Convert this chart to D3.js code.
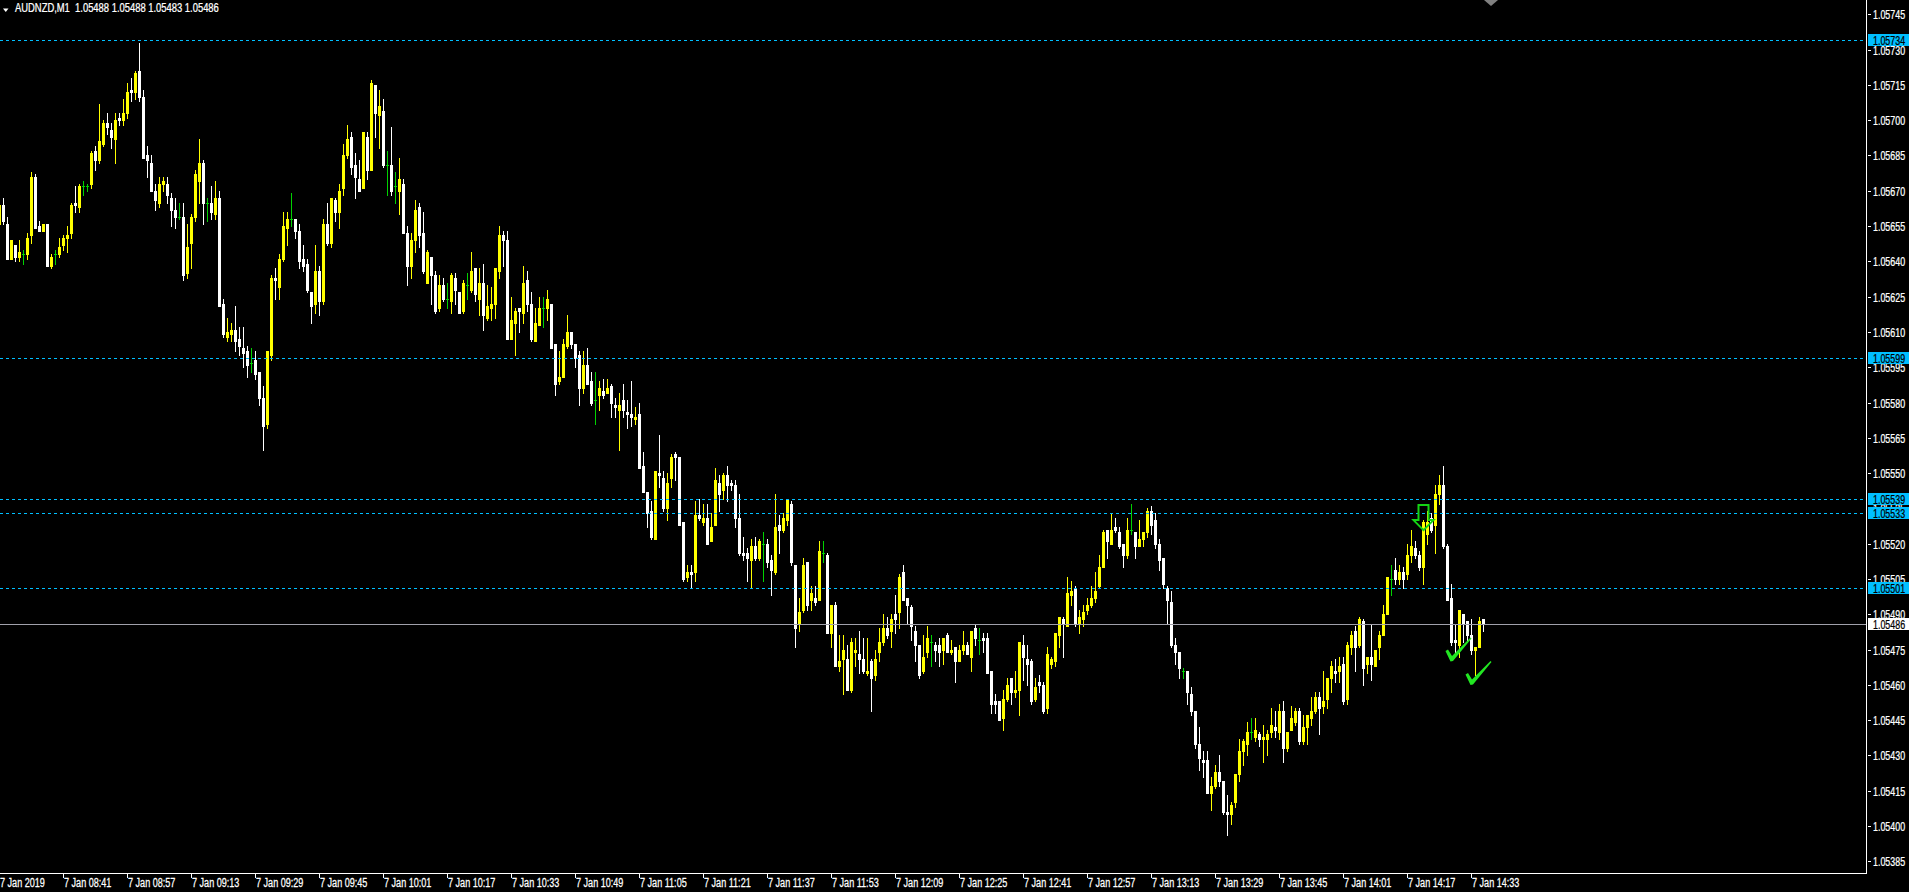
<!DOCTYPE html>
<html><head><meta charset="utf-8">
<script src="https://cdn.jsdelivr.net/npm/d3@7"></script>
<style>
html,body{margin:0;padding:0;background:#000;overflow:hidden}
svg{display:block}
text{font-family:"Liberation Sans",Arial,sans-serif;font-size:12px}
</style></head><body><svg id="c" width="1909" height="892"></svg>
<script>
// ---------- DATA ----------
const symbolTitle = "AUDNZD,M1";
const headerValues = ["1.05488","1.05488","1.05483","1.05486"];
const firstBarTime = "08:25";
const opens = [
1.05656,1.05664,1.05656,1.05641,1.05647,1.05642,1.05643,1.05643,1.05651,1.05676,
1.05655,1.05653,1.05656,1.05638,1.05643,1.05643,1.05647,1.05650,1.05652,1.05665,
1.05663,1.05672,1.05672,1.05673,1.05687,1.05683,1.05690,1.05699,1.05696,1.05692,
1.05701,1.05700,1.05703,1.05713,1.05712,1.05721,1.05710,1.05685,1.05682,1.05670,
1.05665,1.05673,1.05673,1.05667,1.05662,1.05659,1.05659,1.05635,1.05648,1.05659,
1.05674,1.05682,1.05665,1.05665,1.05660,1.05667,1.05622,1.05608,1.05609,1.05611,
1.05607,1.05603,1.05602,1.05597,1.05598,1.05593,1.05582,1.05571,1.05600,1.05633,
1.05629,1.05641,1.05654,1.05658,1.05658,1.05653,1.05641,1.05639,1.05627,1.05622,
1.05636,1.05623,1.05656,1.05648,1.05666,1.05661,1.05671,1.05685,1.05693,1.05681,
1.05675,1.05671,1.05693,1.05679,1.05715,1.05702,1.05704,1.05681,1.05681,1.05672,
1.05670,1.05673,1.05652,1.05638,1.05649,1.05663,1.05652,1.05631,1.05642,1.05634,
1.05620,1.05630,1.05624,1.05623,1.05633,1.05627,1.05619,1.05630,1.05628,1.05637,
1.05624,1.05631,1.05616,1.05620,1.05622,1.05636,1.05651,1.05649,1.05607,1.05614,
1.05620,1.05618,1.05632,1.05622,1.05606,1.05613,1.05620,1.05620,1.05622,1.05605,
1.05589,1.05591,1.05604,1.05610,1.05605,1.05600,1.05586,1.05596,1.05589,1.05581,
1.05583,1.05585,1.05584,1.05587,1.05579,1.05577,1.05581,1.05576,1.05575,1.05573,
1.05575,1.05553,1.05542,1.05534,1.05522,1.05550,1.05548,1.05535,1.05548,1.05558,
1.05557,1.05529,1.05506,1.05508,1.05508,1.05532,1.05529,1.05531,1.05521,1.05528,
1.05546,1.05543,1.05549,1.05546,1.05545,1.05531,1.05516,1.05516,1.05513,1.05519,
1.05514,1.05520,1.05520,1.05513,1.05508,1.05528,1.05526,1.05530,1.05537,1.05511,
1.05486,1.05492,1.05512,1.05496,1.05497,1.05496,1.05516,1.05515,1.05482,1.05494,
1.05468,1.05471,1.05471,1.05458,1.05474,1.05473,1.05471,1.05465,1.05470,1.05464,
1.05474,1.05478,1.05484,1.05483,1.05490,1.05491,1.05508,1.05497,1.05493,1.05483,
1.05477,1.05466,1.05474,1.05478,1.05477,1.05477,1.05475,1.05481,1.05474,1.05476,
1.05470,1.05475,1.05477,1.05472,1.05484,1.05479,1.05480,1.05480,1.05466,1.05453,
1.05453,1.05446,1.05454,1.05463,1.05457,1.05458,1.05477,1.05471,1.05470,1.05454,
1.05461,1.05460,1.05450,1.05469,1.05470,1.05481,1.05488,1.05485,1.05498,1.05501,
1.05486,1.05488,1.05492,1.05494,1.05497,1.05502,1.05510,1.05526,1.05520,1.05527,
1.05525,1.05520,1.05515,1.05526,1.05525,1.05519,1.05522,1.05525,1.05534,1.05530,
1.05520,1.05514,1.05501,1.05495,1.05477,1.05474,1.05466,1.05466,1.05456,1.05449,
1.05435,1.05428,1.05428,1.05414,1.05417,1.05423,1.05419,1.05406,1.05405,1.05410,
1.05422,1.05432,1.05435,1.05440,1.05438,1.05439,1.05437,1.05437,1.05440,1.05442,
1.05440,1.05449,1.05433,1.05441,1.05444,1.05449,1.05436,1.05442,1.05446,1.05449,
1.05455,1.05451,1.05454,1.05463,1.05466,1.05466,1.05469,1.05454,1.05476,1.05483,
1.05477,1.05487,1.05469,1.05472,1.05468,1.05476,1.05481,1.05490,1.05505,1.05509,
1.05505,1.05508,1.05507,1.05515,1.05518,1.05515,1.05510,1.05524,1.05531,1.05528,
1.05541,1.05545,1.05519,1.05497,1.05479,1.05477,1.05490,1.05487,1.05481,1.05475,
1.05476,1.05488];
const highs = [
1.05665,1.05667,1.05659,1.05649,1.05647,1.05649,1.05645,1.05652,1.05678,1.05677,
1.05657,1.05656,1.05656,1.05643,1.05645,1.05650,1.05651,1.05655,1.05665,1.05672,
1.05673,1.05674,1.05673,1.05687,1.05689,1.05707,1.05700,1.05703,1.05699,1.05703,
1.05703,1.05709,1.05716,1.05718,1.05721,1.05733,1.05713,1.05689,1.05685,1.05673,
1.05676,1.05676,1.05676,1.05669,1.05667,1.05665,1.05665,1.05656,1.05660,1.05679,
1.05692,1.05683,1.05667,1.05672,1.05674,1.05670,1.05624,1.05616,1.05614,1.05621,
1.05612,1.05612,1.05604,1.05603,1.05602,1.05593,1.05587,1.05602,1.05634,1.05637,
1.05643,1.05661,1.05661,1.05669,1.05658,1.05656,1.05647,1.05641,1.05627,1.05647,
1.05638,1.05658,1.05665,1.05667,1.05667,1.05673,1.05690,1.05698,1.05695,1.05686,
1.05683,1.05695,1.05695,1.05717,1.05715,1.05713,1.05709,1.05687,1.05697,1.05678,
1.05684,1.05675,1.05655,1.05652,1.05666,1.05665,1.05661,1.05645,1.05642,1.05636,
1.05634,1.05633,1.05631,1.05635,1.05635,1.05627,1.05632,1.05635,1.05644,1.05637,
1.05637,1.05639,1.05630,1.05629,1.05637,1.05655,1.05653,1.05653,1.05625,1.05620,
1.05620,1.05638,1.05636,1.05627,1.05620,1.05625,1.05625,1.05628,1.05622,1.05605,
1.05602,1.05607,1.05617,1.05610,1.05605,1.05602,1.05602,1.05603,1.05593,1.05593,
1.05589,1.05590,1.05590,1.05588,1.05582,1.05584,1.05588,1.05581,1.05589,1.05578,
1.05580,1.05559,1.05542,1.05538,1.05551,1.05566,1.05551,1.05550,1.05558,1.05559,
1.05557,1.05529,1.05511,1.05511,1.05538,1.05539,1.05537,1.05537,1.05533,1.05552,
1.05549,1.05550,1.05553,1.05547,1.05547,1.05541,1.05523,1.05518,1.05522,1.05523,
1.05522,1.05525,1.05522,1.05515,1.05541,1.05532,1.05533,1.05539,1.05538,1.05511,
1.05497,1.05514,1.05512,1.05502,1.05502,1.05521,1.05521,1.05516,1.05494,1.05495,
1.05481,1.05481,1.05477,1.05480,1.05480,1.05483,1.05480,1.05480,1.05471,1.05475,
1.05484,1.05490,1.05489,1.05490,1.05498,1.05507,1.05511,1.05497,1.05494,1.05485,
1.05477,1.05481,1.05485,1.05481,1.05478,1.05480,1.05480,1.05482,1.05479,1.05476,
1.05477,1.05483,1.05478,1.05483,1.05486,1.05484,1.05482,1.05482,1.05466,1.05456,
1.05453,1.05458,1.05463,1.05463,1.05466,1.05478,1.05481,1.05477,1.05471,1.05463,
1.05464,1.05461,1.05476,1.05472,1.05482,1.05489,1.05489,1.05506,1.05504,1.05502,
1.05492,1.05494,1.05497,1.05502,1.05508,1.05515,1.05526,1.05526,1.05533,1.05531,
1.05527,1.05520,1.05531,1.05537,1.05525,1.05530,1.05525,1.05535,1.05536,1.05533,
1.05522,1.05514,1.05502,1.05500,1.05480,1.05474,1.05467,1.05466,1.05459,1.05449,
1.05442,1.05432,1.05432,1.05421,1.05426,1.05430,1.05419,1.05413,1.05410,1.05422,
1.05437,1.05437,1.05444,1.05446,1.05446,1.05440,1.05443,1.05441,1.05450,1.05449,
1.05452,1.05453,1.05440,1.05451,1.05450,1.05450,1.05447,1.05447,1.05455,1.05457,
1.05457,1.05466,1.05463,1.05470,1.05471,1.05472,1.05472,1.05478,1.05483,1.05485,
1.05489,1.05488,1.05472,1.05486,1.05475,1.05483,1.05494,1.05506,1.05511,1.05514,
1.05511,1.05510,1.05520,1.05526,1.05521,1.05517,1.05530,1.05534,1.05533,1.05545,
1.05549,1.05553,1.05520,1.05503,1.05486,1.05492,1.05490,1.05487,1.05488,1.05476,
1.05489,1.05488];
const lows = [
1.05655,1.05656,1.05641,1.05641,1.05640,1.05640,1.05639,1.05641,1.05648,1.05654,
1.05653,1.05653,1.05638,1.05637,1.05639,1.05642,1.05645,1.05644,1.05650,1.05661,
1.05661,1.05668,1.05670,1.05671,1.05679,1.05682,1.05689,1.05694,1.05688,1.05682,
1.05698,1.05698,1.05701,1.05708,1.05709,1.05708,1.05684,1.05676,1.05670,1.05662,
1.05663,1.05670,1.05665,1.05655,1.05654,1.05658,1.05632,1.05633,1.05637,1.05657,
1.05665,1.05656,1.05657,1.05658,1.05658,1.05621,1.05608,1.05606,1.05606,1.05602,
1.05600,1.05595,1.05591,1.05593,1.05590,1.05579,1.05560,1.05569,1.05598,1.05624,
1.05624,1.05640,1.05647,1.05655,1.05650,1.05637,1.05636,1.05627,1.05614,1.05618,
1.05617,1.05622,1.05647,1.05646,1.05657,1.05654,1.05668,1.05684,1.05677,1.05667,
1.05670,1.05671,1.05675,1.05679,1.05693,1.05688,1.05680,1.05668,1.05668,1.05665,
1.05660,1.05652,1.05630,1.05633,1.05644,1.05646,1.05635,1.05631,1.05622,1.05618,
1.05619,1.05623,1.05620,1.05618,1.05622,1.05618,1.05618,1.05624,1.05627,1.05623,
1.05617,1.05611,1.05615,1.05615,1.05616,1.05633,1.05638,1.05607,1.05607,1.05600,
1.05610,1.05614,1.05619,1.05606,1.05606,1.05613,1.05612,1.05615,1.05603,1.05583,
1.05588,1.05591,1.05603,1.05603,1.05595,1.05579,1.05584,1.05588,1.05579,1.05571,
1.05577,1.05582,1.05584,1.05574,1.05574,1.05560,1.05574,1.05569,1.05570,1.05571,
1.05552,1.05542,1.05527,1.05522,1.05522,1.05544,1.05534,1.05530,1.05544,1.05547,
1.05528,1.05504,1.05504,1.05501,1.05504,1.05530,1.05528,1.05520,1.05521,1.05528,
1.05534,1.05539,1.05538,1.05543,1.05527,1.05515,1.05513,1.05504,1.05501,1.05513,
1.05513,1.05504,1.05510,1.05498,1.05507,1.05516,1.05525,1.05528,1.05511,1.05476,
1.05483,1.05491,1.05492,1.05492,1.05494,1.05496,1.05512,1.05482,1.05476,1.05468,
1.05466,1.05456,1.05458,1.05457,1.05468,1.05465,1.05465,1.05464,1.05449,1.05462,
1.05470,1.05477,1.05480,1.05476,1.05482,1.05484,1.05496,1.05486,1.05479,1.05470,
1.05463,1.05465,1.05472,1.05468,1.05470,1.05468,1.05469,1.05474,1.05473,1.05461,
1.05470,1.05473,1.05473,1.05466,1.05477,1.05473,1.05474,1.05465,1.05448,1.05448,
1.05445,1.05441,1.05453,1.05452,1.05455,1.05447,1.05462,1.05460,1.05452,1.05453,
1.05457,1.05448,1.05448,1.05467,1.05468,1.05476,1.05472,1.05485,1.05494,1.05485,
1.05482,1.05485,1.05490,1.05493,1.05495,1.05501,1.05510,1.05514,1.05520,1.05525,
1.05518,1.05510,1.05514,1.05524,1.05514,1.05519,1.05519,1.05523,1.05524,1.05518,
1.05509,1.05501,1.05486,1.05476,1.05469,1.05463,1.05463,1.05452,1.05447,1.05433,
1.05424,1.05421,1.05414,1.05407,1.05416,1.05417,1.05405,1.05396,1.05401,1.05408,
1.05419,1.05426,1.05430,1.05437,1.05436,1.05434,1.05427,1.05430,1.05438,1.05438,
1.05437,1.05427,1.05432,1.05441,1.05443,1.05435,1.05435,1.05435,1.05443,1.05448,
1.05439,1.05448,1.05450,1.05457,1.05461,1.05461,1.05452,1.05452,1.05473,1.05466,
1.05476,1.05460,1.05465,1.05462,1.05468,1.05471,1.05481,1.05490,1.05498,1.05503,
1.05503,1.05501,1.05505,1.05512,1.05514,1.05509,1.05503,1.05520,1.05525,1.05516,
1.05537,1.05518,1.05496,1.05477,1.05473,1.05472,1.05478,1.05478,1.05473,1.05464,
1.05476,1.05483];
const closes = [
1.05664,1.05657,1.05641,1.05649,1.05642,1.05644,1.05643,1.05650,1.05676,1.05654,
1.05653,1.05656,1.05638,1.05642,1.05643,1.05646,1.05650,1.05651,1.05664,1.05664,
1.05672,1.05672,1.05672,1.05686,1.05683,1.05691,1.05699,1.05697,1.05693,1.05700,
1.05700,1.05703,1.05712,1.05712,1.05720,1.05710,1.05684,1.05683,1.05670,1.05666,
1.05673,1.05674,1.05668,1.05662,1.05659,1.05659,1.05634,1.05646,1.05659,1.05677,
1.05682,1.05665,1.05665,1.05661,1.05667,1.05621,1.05609,1.05610,1.05611,1.05606,
1.05604,1.05601,1.05596,1.05597,1.05592,1.05582,1.05570,1.05602,1.05633,1.05632,
1.05641,1.05655,1.05658,1.05658,1.05653,1.05640,1.05638,1.05628,1.05621,1.05636,
1.05623,1.05656,1.05648,1.05667,1.05661,1.05670,1.05685,1.05692,1.05680,1.05676,
1.05670,1.05695,1.05679,1.05716,1.05703,1.05706,1.05681,1.05681,1.05670,1.05672,
1.05675,1.05652,1.05638,1.05649,1.05662,1.05651,1.05636,1.05644,1.05634,1.05619,
1.05630,1.05624,1.05624,1.05634,1.05628,1.05618,1.05631,1.05630,1.05636,1.05626,
1.05631,1.05617,1.05621,1.05622,1.05637,1.05651,1.05649,1.05607,1.05615,1.05619,
1.05619,1.05631,1.05622,1.05607,1.05614,1.05620,1.05620,1.05624,1.05603,1.05588,
1.05591,1.05605,1.05610,1.05605,1.05599,1.05586,1.05596,1.05588,1.05580,1.05581,
1.05586,1.05583,1.05586,1.05580,1.05578,1.05579,1.05577,1.05575,1.05574,1.05574,
1.05552,1.05542,1.05533,1.05523,1.05551,1.05549,1.05535,1.05546,1.05557,1.05557,
1.05528,1.05505,1.05508,1.05507,1.05532,1.05531,1.05531,1.05520,1.05527,1.05547,
1.05541,1.05549,1.05545,1.05545,1.05531,1.05516,1.05515,1.05514,1.05519,1.05514,
1.05521,1.05520,1.05512,1.05509,1.05527,1.05526,1.05531,1.05539,1.05512,1.05484,
1.05491,1.05511,1.05494,1.05499,1.05495,1.05517,1.05516,1.05482,1.05494,1.05468,
1.05470,1.05475,1.05458,1.05478,1.05475,1.05471,1.05466,1.05466,1.05463,1.05471,
1.05478,1.05484,1.05481,1.05488,1.05488,1.05506,1.05496,1.05494,1.05485,1.05477,
1.05464,1.05472,1.05480,1.05478,1.05475,1.05474,1.05480,1.05474,1.05475,1.05470,
1.05475,1.05477,1.05473,1.05483,1.05480,1.05479,1.05479,1.05465,1.05452,1.05452,
1.05445,1.05454,1.05460,1.05457,1.05458,1.05478,1.05472,1.05469,1.05453,1.05459,
1.05460,1.05449,1.05473,1.05471,1.05482,1.05489,1.05486,1.05499,1.05500,1.05486,
1.05489,1.05491,1.05494,1.05497,1.05500,1.05510,1.05525,1.05521,1.05526,1.05526,
1.05519,1.05515,1.05526,1.05526,1.05519,1.05522,1.05525,1.05534,1.05528,1.05520,
1.05513,1.05503,1.05496,1.05477,1.05474,1.05467,1.05466,1.05457,1.05449,1.05435,
1.05429,1.05427,1.05414,1.05417,1.05423,1.05419,1.05406,1.05405,1.05409,1.05422,
1.05432,1.05436,1.05440,1.05440,1.05441,1.05437,1.05438,1.05439,1.05443,1.05441,
1.05449,1.05433,1.05440,1.05446,1.05449,1.05436,1.05442,1.05447,1.05449,1.05455,
1.05450,1.05453,1.05463,1.05468,1.05465,1.05468,1.05453,1.05477,1.05481,1.05476,
1.05488,1.05467,1.05472,1.05469,1.05475,1.05481,1.05490,1.05506,1.05505,1.05505,
1.05508,1.05505,1.05515,1.05519,1.05515,1.05510,1.05529,1.05529,1.05526,1.05541,
1.05545,1.05519,1.05496,1.05478,1.05478,1.05492,1.05486,1.05481,1.05475,1.05476,
1.05487,1.05486];
const priceTicks = [1.05745,1.05730,1.05715,1.05700,1.05685,1.05670,1.05655,1.05640,1.05625,1.05610,
  1.05595,1.05580,1.05565,1.05550,1.05535,1.05520,1.05505,1.05490,1.05475,1.05460,1.05445,1.05430,1.05415,1.05400,1.05385];
const levelLines = [1.05734,1.05599,1.05539,1.05533,1.05501];
const bidPrice = 1.05486;
const timeTickLabels = ["7 Jan 2019","7 Jan 08:41","7 Jan 08:57","7 Jan 09:13","7 Jan 09:29","7 Jan 09:45",
  "7 Jan 10:01","7 Jan 10:17","7 Jan 10:33","7 Jan 10:49","7 Jan 11:05","7 Jan 11:21","7 Jan 11:37",
  "7 Jan 11:53","7 Jan 12:09","7 Jan 12:25","7 Jan 12:41","7 Jan 12:57","7 Jan 13:13","7 Jan 13:29",
  "7 Jan 13:45","7 Jan 14:01","7 Jan 14:17","7 Jan 14:33"];
const timeTickBars = ["08:25","08:41","08:57","09:13","09:29","09:45","10:01","10:17","10:33","10:49","11:05",
  "11:21","11:37","11:53","12:09","12:25","12:41","12:57","13:13","13:29","13:45","14:01","14:17","14:33"];
// annotation anchors (bar time, price)
const arrowMark = {time:"14:21", price:1.05533};
const checkMarks = [{time:"14:29", price:1.05471},{time:"14:34", price:1.05461}];

// ---------- BUILD ----------
function fmtTime(m){const h=Math.floor(m/60),mm=m%60;return String(h).padStart(2,"0")+":"+String(mm).padStart(2,"0");}
const [h0,m0] = firstBarTime.split(":").map(Number);
const times = opens.map((_,i)=>fmtTime(h0*60+m0+i));
const bars = times.map((t,i)=>({t,o:opens[i],h:highs[i],l:lows[i],c:closes[i]}));

const W=1909,H=892, axisX=1866, axisY=873;
const svg = d3.select("#c");
svg.append("rect").attr("width",W).attr("height",H).attr("fill","#000");

// condensed terminal-style text (horizontal scale)
function label(g, tx, ty, str, fill, f){
  return g.append("text").attr("x",0).attr("y",0)
    .attr("transform",`translate(${tx},${ty}) scale(${f},1)`)
    .attr("fill",fill).attr("stroke",fill).attr("stroke-width",0.25)
    .attr("xml:space","preserve").style("white-space","pre").text(str);
}

const x = d3.scalePoint().domain(times).range([-0.5, -0.5 + 4*(times.length-1)]);
const y = d3.scaleLinear().domain([1.05745,1.05385]).range([14.3,861.3]);
const ry = v => Math.round(y(v));

const BULL="#ffff00", BEAR="#ffffff", DOJI="#00d200";
const plot = svg.append("g");
bars.forEach(b=>{
  const cx = x(b.t);
  const col = b.c>b.o?BULL:(b.c<b.o?BEAR:DOJI);
  const yh=ry(b.h), yl=ry(b.l);
  plot.append("rect").attr("x",cx-0.5).attr("y",yh).attr("width",1).attr("height",yl-yh+1).attr("fill",col);
  const yt=ry(Math.max(b.o,b.c)), yb=ry(Math.min(b.o,b.c));
  plot.append("rect").attr("x",cx-1.5).attr("y",yt).attr("width",3).attr("height",Math.max(1,yb-yt+1)).attr("fill",col);
});

// level lines
const lv = svg.append("g");
levelLines.forEach(p=>{
  lv.append("line").attr("x1",0).attr("x2",axisX).attr("y1",ry(p)+0.5).attr("y2",ry(p)+0.5)
    .attr("stroke","#00bfff").attr("stroke-width",1).attr("stroke-dasharray","3,3");
});
lv.append("line").attr("x1",0).attr("x2",axisX).attr("y1",ry(bidPrice)+0.5).attr("y2",ry(bidPrice)+0.5)
  .attr("stroke","#a0a0aa").attr("stroke-width",1);

// axes frame
svg.append("rect").attr("x",axisX).attr("y",0).attr("width",1).attr("height",axisY+1).attr("fill","#fff");
svg.append("rect").attr("x",0).attr("y",axisY).attr("width",axisX+1).attr("height",1).attr("fill","#fff");

// price axis
const pa = svg.append("g");
priceTicks.forEach(p=>{
  pa.append("rect").attr("x",axisX+2).attr("y",ry(p)).attr("width",3).attr("height",1).attr("fill","#fff");
  label(pa, axisX+7, ry(p)+4.5, p.toFixed(5), "#fff", 0.74);
});
levelLines.forEach(p=>{
  pa.append("rect").attr("x",axisX+2).attr("y",ry(p)-6).attr("width",W-axisX-2).attr("height",12).attr("fill","#00bfff");
  label(pa, axisX+7, ry(p)+4.5, p.toFixed(5), "#000", 0.74);
});
pa.append("rect").attr("x",axisX+2).attr("y",ry(bidPrice)-6).attr("width",W-axisX-2).attr("height",12).attr("fill","#fff");
label(pa, axisX+7, ry(bidPrice)+4.5, bidPrice.toFixed(5), "#000", 0.74);

// time axis
const ta = svg.append("g");
timeTickBars.forEach((t,i)=>{
  const tx = Math.round(x(t)-0.5);
  ta.append("rect").attr("x",tx).attr("y",axisY+1).attr("width",1).attr("height",4).attr("fill","#fff");
  label(ta, Math.max(0,tx+1), axisY+14, timeTickLabels[i], "#fff", 0.757);
});

// header
svg.append("path").attr("d","M3,8.5L8.5,8.5L5.75,12Z").attr("fill","#fff");
label(svg, 15, 12, symbolTitle+"  "+headerValues.join(" "), "#fff", 0.785);
// chart shift marker
svg.append("path").attr("d","M1484,0L1498,0L1491,6Z").attr("fill","#808080");

// annotations
const ax = x(arrowMark.time), ay = y(arrowMark.price);
svg.append("path")
  .attr("d",`M${ax-5},${ay-8}L${ax+5},${ay-8}L${ax+5},${ay+7}L${ax+10},${ay+7}L${ax},${ay+17}L${ax-10},${ay+7}L${ax-5},${ay+7}Z`)
  .attr("fill","none").attr("stroke","#14d414").attr("stroke-width",2).attr("stroke-linejoin","miter");
checkMarks.forEach(m=>{
  const cx=x(m.time), cy=y(m.price);
  const p = [[cx-10,cy-8],[cx-7.5,cy-9.5],[cx-3.5,cy-3],[cx+15,cy-21.5],[cx+16,cy-20.5],[cx-2.5,cy+2],[cx-5,cy+2.5]];
  svg.append("path").attr("d","M"+p.map(q=>q.join(",")).join("L")+"Z").attr("fill","#22e622");
});
</script></body></html>
